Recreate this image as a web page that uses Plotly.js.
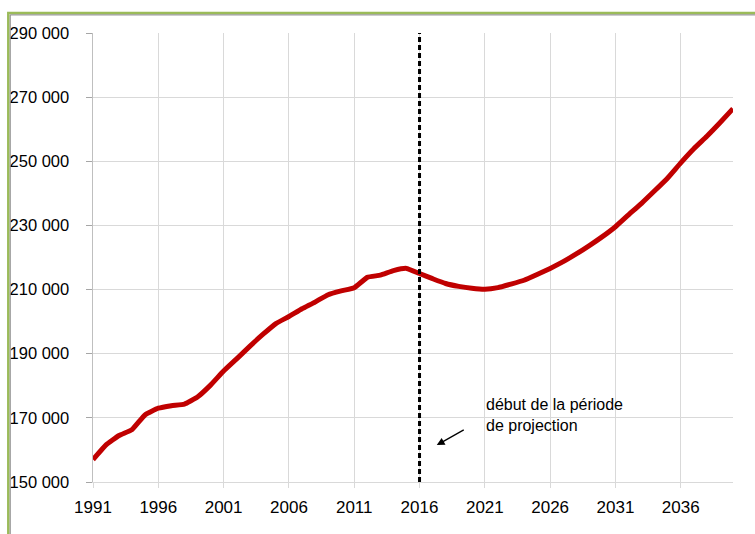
<!DOCTYPE html>
<html>
<head>
<meta charset="utf-8">
<script src="https://cdn.plot.ly/plotly-3.0.1.min.js"></script>
<style>
html, body { margin: 0; padding: 0; background: #fff; }
#chart { width: 755px; height: 534px; }
</style>
</head>
<body>
<div id="chart"></div>
<script>
// ---- data ----
const years = [1991,1992,1993,1994,1995,1996,1997,1998,1999,2000,
               2001,2002,2003,2004,2005,2006,2007,2008,2009,2010,
               2011,2012,2013,2014,2015,2016,2017,2018,2019,2020,
               2021,2022,2023,2024,2025,2026,2027,2028,2029,2030,
               2031,2032,2033,2034,2035,2036,2037,2038,2039,2040];
const population = [157000,161600,164500,166400,171000,173000,173800,174300,176500,180200,
                    184600,188400,192300,196000,199400,201600,204000,206100,208400,209600,
                    210600,213800,214500,215900,216600,215000,213400,211900,211000,210400,
                    210100,210600,211700,212900,214700,216600,218700,221100,223700,226500,
                    229600,233300,236900,240800,244800,249500,253900,257800,262000,266400];
const xTickVals = [1991,1996,2001,2006,2011,2016,2021,2026,2031,2036];
const xTickText = ['1991','1996','2001','2006','2011','2016','2021','2026','2031','2036'];
const yTickVals = [150000,170000,190000,210000,230000,250000,270000,290000];
const yTickText = ['150 000','170 000','190 000','210 000','230 000','250 000','270 000','290 000'];
const projectionStart = 2016;
const annotationText = 'début de la période<br>de projection';

// ---- layout geometry (pixels) ----
const W = 755, H = 534;
const M = {l: 93, r: 22, t: 33, b: 52};
const pw = W - M.l - M.r, ph = H - M.t - M.b;
const px2paperX = p => (p - M.l) / pw;
const py2paperY = p => (H - M.b - p) / ph;

const font = 'Liberation Sans, Arial, sans-serif';

const trace = {
  x: years, y: population, type: 'scatter', mode: 'lines',
  line: {color: '#C00000', width: 5, shape: 'spline', smoothing: 0.4},
  hoverinfo: 'skip', showlegend: false
};

const layout = {
  width: W, height: H,
  margin: M,
  paper_bgcolor: '#fff', plot_bgcolor: '#fff',
  font: {family: font, size: 16, color: '#000'},
  showlegend: false,
  xaxis: {
    range: [years[0], years[years.length - 1]],
    tickvals: xTickVals, ticktext: xTickText,
    showgrid: true, gridcolor: '#D9D9D9', gridwidth: 1,
    zeroline: false,
    showline: true, linecolor: '#D9D9D9', linewidth: 1,
    ticks: 'outside', ticklen: 5, tickcolor: '#D9D9D9',
    ticklabelstandoff: 5,
    tickfont: {family: font, size: 17, color: '#000'}
  },
  yaxis: {
    range: [yTickVals[0], yTickVals[yTickVals.length - 1]],
    tickvals: yTickVals, ticktext: yTickText,
    showgrid: true, gridcolor: '#D9D9D9', gridwidth: 1,
    zeroline: false,
    showline: true, linecolor: '#BFBFBF', linewidth: 1.5,
    ticks: 'outside', ticklen: 6, tickcolor: '#A6A6A6',
    ticklabelstandoff: 13,
    tickfont: {family: font, size: 16.5, color: '#000'}
  },
  shapes: [
    {type: 'line', xref: 'x', yref: 'paper', x0: projectionStart, x1: projectionStart, y0: 0, y1: 1,
     line: {color: '#000', width: 3, dash: '5px,3px'}},
    // outer frame (green) and inner grey line
    {type: 'rect', xref: 'paper', yref: 'paper',
     x0: px2paperX(8.3), x1: px2paperX(W + 20), y0: py2paperY(13), y1: py2paperY(H + 20),
     line: {color: '#9BBB59', width: 2.5}, fillcolor: 'rgba(0,0,0,0)'},
    {type: 'rect', xref: 'paper', yref: 'paper',
     x0: px2paperX(10.2), x1: px2paperX(W + 20), y0: py2paperY(14.9), y1: py2paperY(H + 20),
     line: {color: '#808080', width: 1}, fillcolor: 'rgba(0,0,0,0)'}
  ],
  annotations: [
    {xref: 'x', yref: 'y', x: 2020.9, y: 177300, xanchor: 'left', yanchor: 'top', align: 'left',
     text: annotationText, showarrow: false,
     font: {family: font, size: 16, color: '#000'}},
    {xref: 'x', yref: 'y', axref: 'x', ayref: 'y',
     x: 2017.32, y: 161500, ax: 2019.5, ay: 166500,
     text: '', showarrow: true, arrowhead: 2, arrowsize: 1.2, arrowwidth: 1.3, arrowcolor: '#000'}
  ]
};

Plotly.newPlot('chart', [trace], layout, {staticPlot: true, displayModeBar: false});
</script>
</body>
</html>
